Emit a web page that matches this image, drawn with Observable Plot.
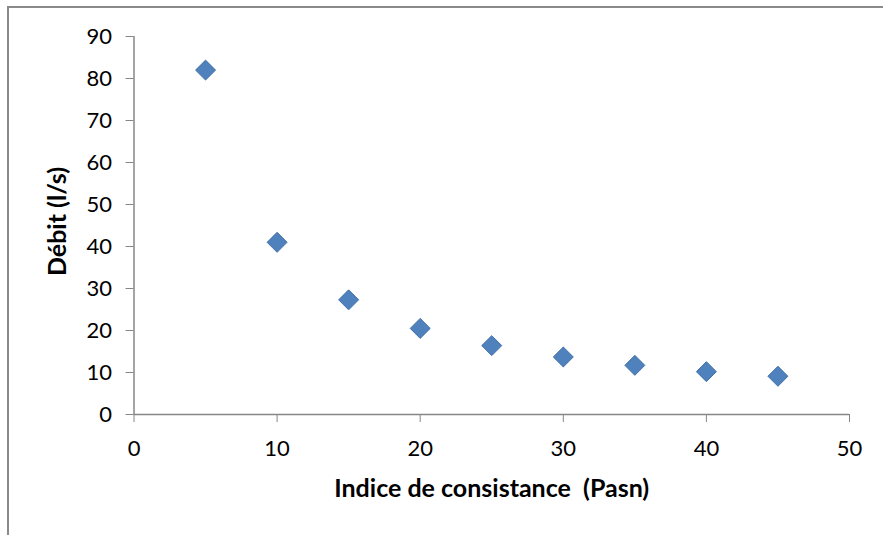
<!DOCTYPE html>
<html>
<head>
<meta charset="utf-8">
<script src="https://cdn.jsdelivr.net/npm/d3@7"></script>
<script src="https://cdn.jsdelivr.net/npm/@observablehq/plot@0.6"></script>
<style>
  html, body { margin: 0; padding: 0; background: #fff; }
  #wrap { position: relative; width: 883px; height: 535px; overflow: hidden; }
  #border { position: absolute; left: 7px; top: 6px; width: 900px; height: 600px;
            border-left: 2px solid #8a8a8a; border-top: 2px solid #8a8a8a; }
  #chart { position: absolute; left: 0; top: 0; }
</style>
</head>
<body>
<div id="wrap"><div id="border"></div><div id="chart"></div></div>
<script>
const indice = [5, 10, 15, 20, 25, 30, 35, 40, 45];
const debit = [82, 41, 27.3, 20.5, 16.4, 13.7, 11.7, 10.2, 9.1];
const xTicks = [0, 10, 20, 30, 40, 50];
const yTicks = [0, 10, 20, 30, 40, 50, 60, 70, 80, 90];
const xTitle = "Indice de consistance  (Pasn)";
const yTitle = "Débit (l/s)";

const data = indice.map((x, i) => ({x, y: debit[i]}));
const axisColor = "#868686";

const chart = Plot.plot({
  width: 883,
  height: 535,
  marginLeft: 133.5,
  marginRight: 34,
  marginTop: 36,
  marginBottom: 121,
  style: {fontFamily: "Lato, sans-serif", background: "transparent", color: "#000", overflow: "visible"},
  x: {domain: [0, 50]},
  y: {domain: [0, 90]},
  marks: [
    Plot.axisX({ticks: xTicks, tickSize: 8, tickPadding: 18, fontSize: 22, stroke: axisColor, color: "#000", tickFormat: d => d, label: null}),
    Plot.axisY({ticks: yTicks, tickSize: 8, tickPadding: 14, fontSize: 22, stroke: axisColor, tickFormat: d => d, label: null}),
    Plot.ruleY([0], {stroke: axisColor, strokeWidth: 1.5}),
    Plot.ruleX([0], {stroke: axisColor, strokeWidth: 1.5}),
    Plot.dot(data, {x: "x", y: "y", symbol: "diamond2", r: 9, fill: "#4F81BD", stroke: "#3F6FA9", strokeWidth: 1}),
    Plot.text([xTitle], {frameAnchor: "bottom", textAnchor: "middle", lineAnchor: "middle", dy: 74, text: d => d, fontSize: 25, fontWeight: "bold", fill: "#000"}),
    Plot.text([yTitle], {frameAnchor: "left", textAnchor: "middle", lineAnchor: "middle", dx: -76.5, dy: -4, rotate: -90, text: d => d, fontSize: 25, fontWeight: "bold", fill: "#000"})
  ]
});
document.getElementById("chart").appendChild(chart);
</script>
</body>
</html>
